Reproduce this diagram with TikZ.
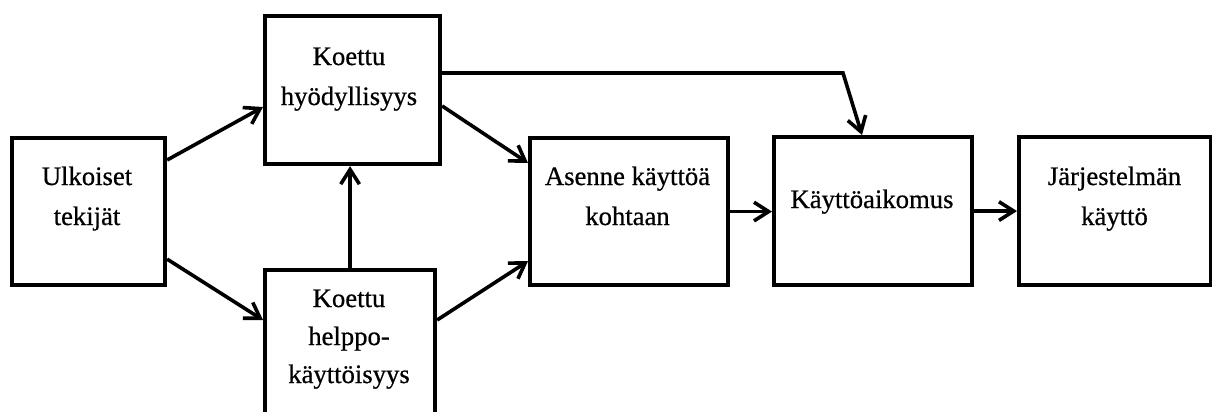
\documentclass[tikz,border=0pt]{standalone}
\usepackage{fontspec}
\setmainfont{Liberation Serif}[FakeBold=0.6]
\usetikzlibrary{arrows.meta,calc}

\tikzset{
  block/.style={draw=black, line width=3.1pt, fill=white, inner sep=0pt, anchor=north west},
  label text/.style={inner sep=0pt, anchor=base, align=center,
    font=\fontsize{20}{30}\selectfont},
  flow/.style={line width=2.7pt, line join=miter,
    -{Straight Barb[length=11pt, width=14pt, line width=2.7pt]}},
}

\begin{document}
\begin{tikzpicture}[x=0.75pt, y=-0.75pt]
  \useasboundingbox (0,0) rectangle (1212,411);
  \clip (0,0) rectangle (1212,411);

  % boxes (sizes in pixel units)
  \node[block, minimum width=153*0.75pt, minimum height=147*0.75pt] (ext) at (10,136) {};
  \node[block, minimum width=175*0.75pt, minimum height=148*0.75pt] (use) at (263,14) {};
  \node[block, minimum width=170*0.75pt, minimum height=150*0.75pt] (ease) at (263,268) {};
  \node[block, minimum width=198*0.75pt, minimum height=147*0.75pt] (att) at (528,136) {};
  \node[block, minimum width=198*0.75pt, minimum height=148*0.75pt] (int) at (772,135) {};
  \node[block, minimum width=192*0.75pt, minimum height=148*0.75pt] (sys) at (1017,135) {};

  % box texts, placed by the baseline of their last line
  \node[label text] (extT) at (87,225) {Ulkoiset\\tekijät};
  \node[label text] (useT) at (349,105) {Koettu\\hyödyllisyys};
  \node[label text, font=\fontsize{20}{28.5}\selectfont] (easeT) at (349,383) {Koettu\\helppo-\\käyttöisyys};
  \node[label text] (attT) at (627.5,225) {Asenne käyttöä\\kohtaan};
  \node[label text] (intT) at (872,208) {Käyttöaikomus};
  \node[label text] (sysT) at (1114.5,225) {Järjestelmän\\käyttö};

  % connectors
  \draw[flow] ($(ext.north east)+(0,24)$) -- ($(use.north west)+(0,93)$);
  \draw[flow] ($(ext.south east)+(0,-28)$) -- ($(ease.north west)+(0,52)$);
  \draw[flow] (ease.north) -- (ease.north |- use.south);
  \draw[flow] ($(use.north east)+(0,92)$) -- ($(att.north west)+(0,27)$);
  \draw[flow] ($(ease.north east)+(0,52)$) -- ($(att.south west)+(0,-26)$);
  \draw[flow] ($(use.north east)+(0,59)$) -- ($(int.north west)+(71,-62)$) -- ($(int.north west)+(90,0)$);
  \draw[flow] (att.east) -- (att.east -| int.west);
  \draw[flow] (int.east) -- (int.east -| sys.west);
\end{tikzpicture}
\end{document}
